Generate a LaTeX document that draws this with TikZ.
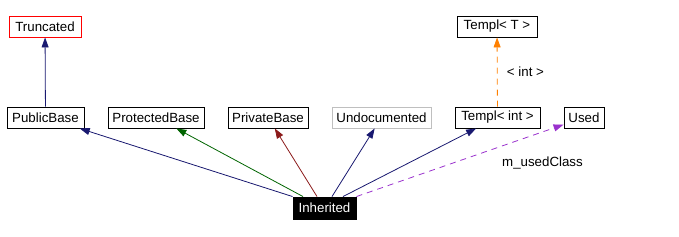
\documentclass[tikz,border=0pt]{standalone}
\usepackage{fontspec}
\setmainfont{Liberation Sans}
\usetikzlibrary{arrows.meta}
\definecolor{midnight}{HTML}{191970}
\definecolor{dgreen}{HTML}{006400}
\definecolor{firebrick}{HTML}{8B1A1A}
\definecolor{orchid}{HTML}{9A32CD}
\definecolor{grey75}{HTML}{BFBFBF}
\begin{document}
\begin{tikzpicture}[x=1pt, y=-1pt, font=\fontsize{13.3}{16}\selectfont,
  cls/.style={draw=black, line width=0.9pt, minimum height=21pt, inner sep=0pt},
  rel/.style={line width=0.8pt, -{Triangle[length=10pt,width=7pt]}}]
  \useasboundingbox (0,0) rectangle (679,236);
  % top row
  \node[cls, draw=red, minimum width=72pt] (trunc) at (45,26.5) {Truncated};
  \node[cls, minimum width=80pt] (templT) at (497,26.5) {Templ< T >};
  % base classes
  \node[cls, minimum width=77pt] (pubbase) at (45.5,117.5) {PublicBase};
  \node[cls, minimum width=96pt] (protbase) at (156,117.5) {ProtectedBase};
  \node[cls, minimum width=80pt] (privbase) at (268,117.5) {PrivateBase};
  \node[cls, draw=grey75, minimum width=99pt] (undoc) at (381.5,117.5) {Undocumented};
  \node[cls, minimum width=85pt] (templint) at (497.5,117.5) {Templ< int >};
  \node[cls, minimum width=40pt] (used) at (584,117.5) {Used};
  % derived class
  \node[cls, fill=black, text=white, minimum width=63pt, minimum height=22pt] (inh) at (324.5,208) {Inherited};
  % edges
  \draw[rel, midnight] (pubbase) -- (trunc);
  \draw[rel, orange, dash pattern=on 6pt off 5pt] (templint) -- node[right=6pt, text=black] (lblint) {< int >} (templT);
  \draw[rel, midnight] (inh.north west) -- (pubbase);
  \draw[rel, dgreen] ([xshift=-21.5pt]inh.north) -- (protbase);
  \draw[rel, firebrick] ([xshift=-7.5pt]inh.north) -- (privbase);
  \draw[rel, midnight] ([xshift=7.5pt]inh.north) -- (undoc);
  \draw[rel, midnight] ([xshift=18.5pt]inh.north) -- (templint);
  \draw[rel, orchid, dash pattern=on 6pt off 5pt] (inh.north east) -- (used);
  \node (lblused) at (542.5,163) {m\_usedClass};
\end{tikzpicture}
\end{document}
